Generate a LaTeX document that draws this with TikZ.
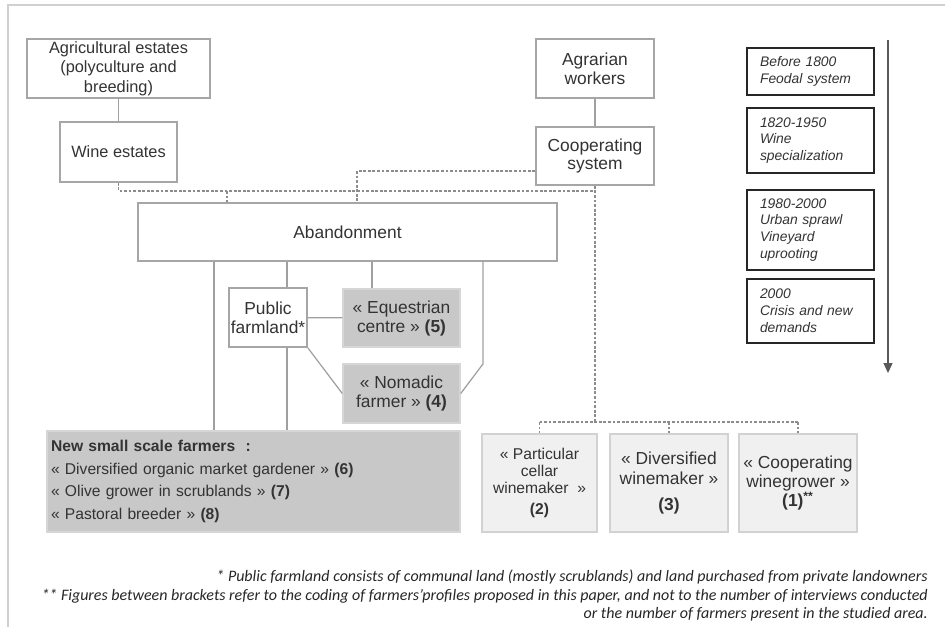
\documentclass[tikz,border=0pt]{standalone}
\usepackage{fontspec}
\setmainfont{Liberation Sans}
\newfontfamily\calfont{Carlito}
\usetikzlibrary{arrows.meta}
\definecolor{txt}{HTML}{333333}
\definecolor{ftxt}{HTML}{262626}
\definecolor{bord}{HTML}{A6A6A6}
\definecolor{connc}{HTML}{A0A0A0}
\definecolor{dashc}{HTML}{8C8C8C}
\definecolor{gfill}{HTML}{C8C8C8}
\definecolor{gbord}{HTML}{D6D6D6}
\definecolor{lfill}{HTML}{F0F0F0}
\definecolor{lbord}{HTML}{D2D2D2}
\definecolor{framec}{HTML}{D0D0D0}
\begin{document}
\begin{tikzpicture}[x=0.02cm,y=-0.02cm,
 sz/.style 2 args={minimum width=#1*0.02cm,minimum height=#2*0.02cm},
 wbox/.style={draw=bord,line width=1pt,fill=white,text=txt,align=center,inner sep=0pt},
 gbox/.style={draw=gbord,line width=0.8pt,fill=gfill,text=txt,align=center,inner sep=0pt},
 lbox/.style={draw=lbord,line width=0.8pt,fill=lfill,text=txt,align=center,inner sep=0pt},
 tbox/.style={draw=black!85,line width=1.2pt,text=txt,align=left,text width=2.02cm,inner xsep=0.26cm,inner ysep=0pt,font=\fontsize{7.9}{9.6}\selectfont\itshape},
 conn/.style={draw=connc,line width=0.7pt},
 dsh/.style={draw=dashc,line width=0.6pt,dash pattern=on 1.6pt off 1pt},
 ftn/.style={anchor=east,text=ftxt,inner sep=0pt,font=\calfont\fontsize{9.1}{10}\selectfont\itshape},
 big/.style={font=\fontsize{9.9}{10.8}\selectfont}
]
\useasboundingbox (0,0) rectangle (945,627);
\draw[framec,line width=0.8pt] (8,627) -- (8,5) -- (945,5);

% upper boxes
\node[wbox,sz={183}{59},font=\fontsize{9.3}{11}\selectfont] (agr) at (118.5,68.5) {Agricultural estates\\(polyculture and\\breeding)};
\node[wbox,sz={117}{60},font=\fontsize{9.3}{11}\selectfont] (wine) at (118.5,152) {Wine estates};
\node[wbox,sz={118}{59},big] (agrw) at (595,68.5) {Agrarian\\workers};
\node[wbox,sz={118}{58},big] (coop) at (595,156) {Cooperating\\system};
\node[wbox,sz={419}{58},big] (aband) at (347.5,232) {Abandonment};
\node[wbox,sz={78}{59},big] (pub) at (268,317.5) {Public\\farmland*};
\node[gbox,sz={117}{58},big] (eq) at (401.5,318) {« Equestrian\\centre » \textbf{(5)}};
\node[gbox,sz={117}{59},big] (nom) at (401.5,393.5) {« Nomadic\\farmer » \textbf{(4)}};

% lower boxes
\node[gbox,sz={413}{101},align=left,text width=8.1cm,inner xsep=0.08cm,font=\fontsize{8.9}{13}\selectfont] (nsf) at (253.5,481.5)
 {\textbf{New small scale farmers~~:}\\« Diversified organic market gardener » \textbf{(6)}\\« Olive grower in scrublands » \textbf{(7)}\\« Pastoral breeder » \textbf{(8)}};
\node[lbox,sz={115}{98},font=\fontsize{8.9}{9.7}\selectfont] (w1) at (539.5,483) {« Particular\\cellar\\winemaker~~»\\[2pt]\textbf{(2)}};
\node[lbox,sz={118}{98},font=\fontsize{9.9}{11.3}\selectfont] (w2) at (669,483) {« Diversified\\winemaker »\\[4pt]\textbf{(3)}};
\node[lbox,sz={118}{98},font=\fontsize{9.9}{11}\selectfont] (w3) at (798,483) {« Cooperating\\winegrower »\\\textbf{(1)}\textsuperscript{\textbf{**}}};

% timeline
\node[tbox,sz={127}{47}] (t1) at (810.5,71.5) {Before 1800\\Feodal system};
\node[tbox,sz={127}{65}] (t2) at (810.5,140.5) {1820-1950\\Wine\\specialization};
\node[tbox,sz={127}{80}] (t3) at (810.5,230) {1980-2000\\Urban sprawl\\Vineyard\\uprooting};
\node[tbox,sz={127}{64}] (t4) at (810.5,311) {2000\\Crisis and new\\demands};
\coordinate (ta) at (888,40);
\coordinate (tb) at (888,373);
\draw[draw=black!65,line width=0.6pt,-{Triangle[length=0.2cm,width=0.18cm]}] (ta) -- (tb);

% helper coordinates
\coordinate (x214) at (214,0);
\coordinate (x227) at (227,0);
\coordinate (x287) at (287,0);
\coordinate (x357) at (357,0);
\coordinate (x372) at (372,0);
\coordinate (x483) at (483,0);
\coordinate (d1) at (595,191);
\coordinate (d3y) at (0,171);
\coordinate (d5y) at (0,422);

% solid connectors
\draw[conn] (agr) -- (wine);
\draw[conn] (agrw) -- (coop);
\draw[conn] (aband.south -| x214) -- (nsf.north -| x214);
\draw[conn] (aband.south -| x287) -- (pub.north -| x287);
\draw[conn] (pub.south -| x287) -- (nsf.north -| x287);
\draw[conn] (aband.south -| x372) -- (eq.north -| x372);
\draw[conn] (aband.south -| x483) -- ++(0,102) -- (nom.east);
\draw[conn] (pub) -- (eq);
\draw[conn] (pub.south east) -- (nom.west);

% dashed connectors
\draw[dsh] (wine.south) |- (d1);
\draw[dsh] (x227 |- d1) -- (x227 |- aband.north);
\draw[dsh] (coop.west |- d3y) -| (x357 |- aband.north);
\draw[dsh] (coop.south) -- (coop.south |- d5y);
\draw[dsh] (w1.north |- d5y) -- (w3.north |- d5y);
\draw[dsh] (w1.north |- d5y) -- (w1.north);
\draw[dsh] (w2.north |- d5y) -- (w2.north);
\draw[dsh] (w3.north |- d5y) -- (w3.north);

% footnotes
\node[ftn] (fn1) at (928,577) {* Public farmland consists of communal land (mostly scrublands) and land purchased from private landowners};
\node[ftn] (fn2) at (928,596) {** Figures between brackets refer to the coding of farmers’profiles proposed in this paper, and not to the number of interviews conducted};
\node[ftn] (fn3) at (928,614) {or the number of farmers present in the studied area.};
\end{tikzpicture}
\end{document}
